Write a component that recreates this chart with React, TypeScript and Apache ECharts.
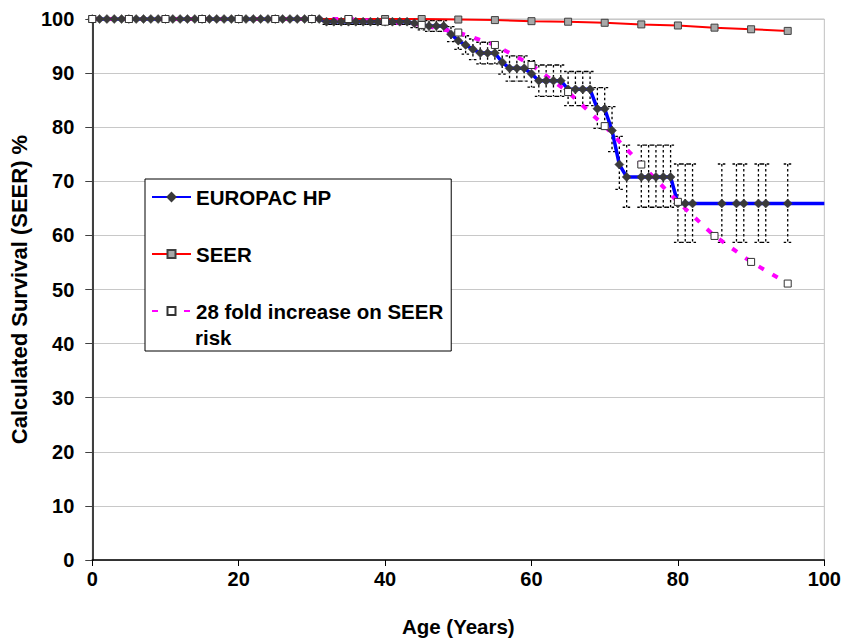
import React, { useEffect, useRef } from "react";
import * as echarts from "echarts";

// EUROPAC HP calculated survival, one point per age of event
const europacAges = [
  0, 1, 2, 3, 4, 5, 6, 7, 8, 9, 10, 11, 12, 13, 14, 15, 16, 17, 18, 19, 20,
  21, 22, 23, 24, 25, 26, 27, 28, 29, 30, 31,
  32, 33, 34, 35, 36, 37, 38, 39, 40, 41, 42, 43,
  44, 45, 46, 47, 48, 49, 50, 51, 52, 53, 54, 55, 56, 57, 58, 59, 60,
  61, 62, 63, 64, 65, 66, 67, 68, 69, 70, 71, 72, 73,
  75, 76, 77, 78, 79,
  80, 81, 82, 86, 88, 89, 91, 92, 95,
];
const europacSurvival = [
  100, 100, 100, 100, 100, 100, 100, 100, 100, 100, 100, 100, 100, 100, 100, 100,
  100, 100, 100, 100, 100, 100, 100, 100, 100, 100, 100, 100, 100, 100, 100, 100,
  99.5, 99.5, 99.5, 99.5, 99.5, 99.5, 99.5, 99.5, 99.5, 99.5, 99.5, 99.5,
  99.2, 98.9, 98.7, 98.7, 98.7, 97.2, 96.0, 95.2, 94.4, 93.7, 93.7, 93.7, 92.0,
  90.9, 90.9, 90.9, 89.9,
  88.6, 88.6, 88.6, 88.6, 87.0, 87.0, 87.0, 87.0, 83.4, 83.4, 79.4, 73.1, 70.8,
  70.8, 70.8, 70.8, 70.8, 70.8,
  65.9, 65.9, 65.9, 65.9, 65.9, 65.9, 65.9, 65.9, 65.9,
];
// 95% confidence limits for each EUROPAC point (null where no interval is drawn)
const europacLower = [
  null, null, null, null, null, null, null, null, null, null, null, null, null, null, null, null,
  null, null, null, null, null, null, null, null, null, null, null, null, null, null, null, null,
  99.0, 99.0, 99.0, 99.0, 99.0, 99.0, 99.0, 99.0, 99.0, 99.0, 99.0, 99.0,
  98.4, 98.0, 97.7, 97.7, 97.7, 95.8, 94.4, 93.5, 92.5, 91.7, 91.7, 91.7, 89.8,
  88.5, 88.5, 88.5, 87.4,
  85.7, 85.7, 85.7, 85.7, 84.0, 84.0, 84.0, 84.0, 79.8, 79.8, 75.5, 68.5, 65.2,
  65.2, 65.2, 65.2, 65.2, 65.2,
  58.7, 58.7, 58.7, 58.7, 58.7, 58.7, 58.7, 58.7, 58.7,
];
const europacUpper = [
  null, null, null, null, null, null, null, null, null, null, null, null, null, null, null, null,
  null, null, null, null, null, null, null, null, null, null, null, null, null, null, null, null,
  100, 100, 100, 100, 100, 100, 100, 100, 100, 100, 100, 100,
  100, 99.8, 99.7, 99.7, 99.7, 98.6, 97.6, 96.9, 96.3, 95.7, 95.7, 95.7, 94.2,
  93.2, 93.2, 93.2, 92.3,
  91.5, 91.5, 91.5, 91.5, 90.3, 90.3, 90.3, 90.3, 87.3, 87.3, 83.8, 78.3, 76.7,
  76.7, 76.7, 76.7, 76.7, 76.7,
  73.2, 73.2, 73.2, 73.2, 73.2, 73.2, 73.2, 73.2, 73.2,
];
// the EUROPAC curve is carried on to this age
const europacEndAge = 100;

// SEER population survival and the 28-fold increased risk curve, every 5 years
const seerAges = [0, 5, 10, 15, 20, 25, 30, 35, 40, 45, 50, 55, 60, 65, 70, 75, 80, 85, 90, 95];
const seerSurvival = [
  100, 100, 100, 100, 100, 100, 100, 100, 100, 100,
  99.9, 99.8, 99.6, 99.5, 99.3, 99.0, 98.8, 98.4, 98.1, 97.8,
];
const foldSurvival = [
  100, 100, 100, 100, 100, 100, 100, 100, 99.5, 98.9,
  97.5, 95.2, 91.5, 86.5, 80.2, 73.1, 66.2, 59.9, 55.1, 51.1,
];

const seriesNames = ["EUROPAC HP", "SEER", "28 fold increase on SEER"];
const legendSecondLine = "risk";

const FONT = "'Liberation Sans', Arial, Helvetica, sans-serif";

const LEGEND_LEFT = 145;
const LEGEND_TOP = 179;
const LEGEND_PAD = [6, 8, 28, 6];
const LEGEND_ICON_W = 39;

export default function App() {
  const ref = useRef<HTMLDivElement>(null);

  useEffect(() => {
    if (!ref.current) return;
    const chart = echarts.init(ref.current, undefined, { renderer: "svg" });

    const europacPoints: any[] = europacAges.map((a, i) => [a, europacSurvival[i]]);
    europacPoints.push({
      value: [europacEndAge, europacSurvival[europacSurvival.length - 1]],
      symbol: "none",
    });

    const intervals = europacAges
      .map((a, i) => [a, europacLower[i], europacUpper[i]])
      .filter((d) => d[1] !== null && d[2] !== null);

    const seerPoints = seerAges.map((a, i) => [a, seerSurvival[i]]);
    const foldPoints = seerAges.map((a, i) => [a, foldSurvival[i]]);

    const labelFont = { fontFamily: FONT, fontWeight: "bold" as const, fontSize: 20, color: "#000" };

    chart.setOption({
      animation: false,
      backgroundColor: "#fff",
      grid: {
        left: 88,
        right: 19,
        top: 19,
        bottom: 80,
        show: true,
        borderColor: "#c0c0c0",
        borderWidth: 1,
        backgroundColor: "transparent",
      },
      xAxis: {
        type: "value",
        min: 0,
        max: 100,
        interval: 20,
        name: "Age (Years)",
        nameLocation: "middle",
        nameGap: 56,
        nameTextStyle: { ...labelFont, fontSize: 20.5 },
        axisLine: { show: true, lineStyle: { color: "#000", width: 1.5 } },
        axisTick: { show: true, length: 6, lineStyle: { color: "#000", width: 1 } },
        axisLabel: { ...labelFont, margin: 9 },
        splitLine: { show: false },
      },
      yAxis: {
        type: "value",
        min: 0,
        max: 100,
        interval: 10,
        name: "Calculated Survival (SEER) %",
        nameLocation: "middle",
        nameGap: 58,
        nameTextStyle: { ...labelFont, fontSize: 22 },
        axisLine: { show: true, lineStyle: { color: "#404040", width: 2 } },
        axisTick: { show: true, length: 7, lineStyle: { color: "#404040", width: 1 } },
        axisLabel: { ...labelFont, margin: 18 },
        splitLine: { show: true, lineStyle: { color: "#c8c8c8", width: 1 } },
      },
      legend: {
        data: seriesNames,
        orient: "vertical",
        left: LEGEND_LEFT,
        top: LEGEND_TOP,
        padding: LEGEND_PAD,
        itemGap: 33,
        itemWidth: LEGEND_ICON_W,
        itemHeight: 10,
        backgroundColor: "#fff",
        borderColor: "#000",
        borderWidth: 1,
        borderRadius: 0,
        selectedMode: false,
        textStyle: { ...labelFont, fontSize: 20.5, lineHeight: 24 },
      },
      graphic: [
        {
          type: "text",
          z: 100,
          x: LEGEND_LEFT + LEGEND_PAD[3] + LEGEND_ICON_W + 5,
          y: 337,
          style: {
            text: legendSecondLine,
            fontFamily: FONT,
            fontWeight: "bold",
            fontSize: 20.5,
            fill: "#000",
            verticalAlign: "middle",
          },
        },
      ],
      series: [
        {
          name: "95% CI",
          type: "custom",
          silent: true,
          data: intervals,
          encode: { x: 0, y: [1, 2] },
          renderItem: (params: any, api: any) => {
            const x = api.value(0);
            const top = api.coord([x, api.value(2)]);
            const bot = api.coord([x, api.value(1)]);
            const style = { stroke: "#000", lineWidth: 1.3, lineDash: [2.5, 2.5], fill: null };
            const cap = 4;
            return {
              type: "group",
              children: [
                { type: "line", shape: { x1: top[0], y1: top[1], x2: bot[0], y2: bot[1] }, style },
                { type: "line", shape: { x1: top[0] - cap, y1: top[1], x2: top[0] + cap, y2: top[1] }, style },
                { type: "line", shape: { x1: bot[0] - cap, y1: bot[1], x2: bot[0] + cap, y2: bot[1] }, style },
              ],
            };
          },
        },
        {
          name: seriesNames[0],
          type: "line",
          data: europacPoints,
          symbol: "diamond",
          symbolSize: 9,
          lineStyle: { color: "#0000ff", width: 3.5 },
          itemStyle: { color: "#3a3a3a", borderColor: "#3a3a3a", borderWidth: 0.5 },
          color: "#0000ff",
        },
        {
          name: seriesNames[1],
          type: "line",
          data: seerPoints,
          symbol: "rect",
          symbolSize: 7,
          lineStyle: { color: "#ff0000", width: 2 },
          itemStyle: { color: "#a8a8a8", borderColor: "#404040", borderWidth: 1 },
        },
        {
          name: seriesNames[2],
          type: "line",
          data: foldPoints,
          symbol: "rect",
          symbolSize: 7,
          lineStyle: { color: "#ff00ff", width: 4, type: [6, 10] },
          itemStyle: { color: "#ffffff", borderColor: "#333333", borderWidth: 1 },
        },
      ],
    });

    return () => chart.dispose();
  }, []);

  return (
    <div
      ref={ref}
      style={{ position: "fixed", left: 0, top: 0, width: 844, height: 642, background: "#fff" }}
    />
  );
}
